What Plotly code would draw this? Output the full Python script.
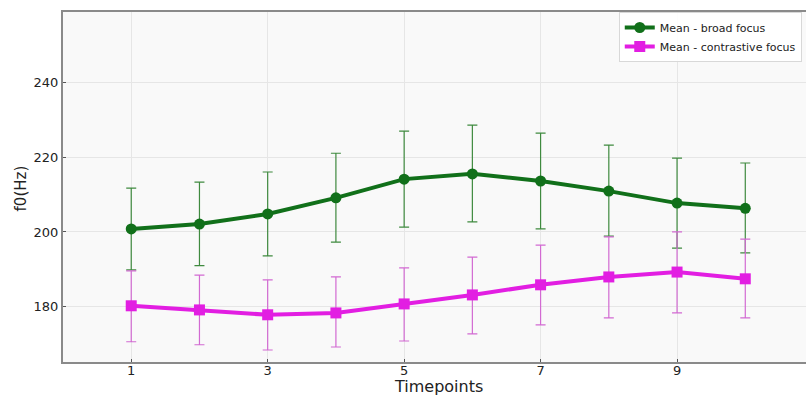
import plotly.graph_objects as go

timepoints = [1, 2, 3, 4, 5, 6, 7, 8, 9, 10]

broad_mean = [200.8, 202.1, 204.8, 209.1, 214.1, 215.5, 213.6, 210.9, 207.7, 206.3]
broad_upper = [211.7, 213.3, 216.0, 221.0, 226.9, 228.5, 226.4, 223.2, 219.7, 218.4]
broad_lower = [189.9, 191.0, 193.6, 197.3, 201.3, 202.7, 200.8, 198.9, 195.7, 194.4]

contr_mean = [180.3, 179.2, 177.9, 178.4, 180.8, 183.2, 185.9, 188.0, 189.3, 187.5]
contr_upper = [189.6, 188.5, 187.2, 188.0, 190.4, 193.3, 196.5, 198.7, 200.0, 198.1]
contr_lower = [170.7, 169.9, 168.5, 169.3, 170.9, 172.8, 175.2, 177.1, 178.4, 177.1]

x_ticks = [1, 3, 5, 7, 9]
y_ticks = [180, 200, 220, 240]

broad_plus = [u - m for u, m in zip(broad_upper, broad_mean)]
broad_minus = [m - l for m, l in zip(broad_mean, broad_lower)]
contr_plus = [u - m for u, m in zip(contr_upper, contr_mean)]
contr_minus = [m - l for m, l in zip(contr_mean, contr_lower)]

fig = go.Figure()
fig.add_trace(go.Scatter(
    x=timepoints, y=broad_mean, mode="lines+markers", name="Mean - broad focus",
    line=dict(color="#11701a", width=4),
    marker=dict(symbol="circle", size=11, color="#11701a"),
    error_y=dict(type="data", symmetric=False, array=broad_plus, arrayminus=broad_minus,
                 color="#3f8a3f", thickness=1.2, width=5),
))
fig.add_trace(go.Scatter(
    x=timepoints, y=contr_mean, mode="lines+markers", name="Mean - contrastive focus",
    line=dict(color="#e21ee2", width=4),
    marker=dict(symbol="square", size=11, color="#e21ee2"),
    error_y=dict(type="data", symmetric=False, array=contr_plus, arrayminus=contr_minus,
                 color="#d26ad2", thickness=1.2, width=5),
))

fig.update_layout(
    width=806, height=396,
    margin=dict(l=63, r=0, t=12, b=34),
    paper_bgcolor="white",
    plot_bgcolor="#f9f9f9",
    font=dict(family="DejaVu Sans", color="#222"),
    showlegend=True,
    legend=dict(
        x=0.748, y=1.0, xanchor="left", yanchor="top",
        bgcolor="rgba(255,255,255,0.9)", bordercolor="#d8d8d8", borderwidth=1,
        font=dict(size=11, color="#222"),
        itemwidth=30, tracegroupgap=0,
    ),
    annotations=[
        dict(text="f0(Hz)", xref="paper", yref="paper", x=-0.056, y=0.497,
             xanchor="center", yanchor="middle", textangle=-90, showarrow=False,
             font=dict(size=15, color="#222")),
        dict(text="Timepoints", xref="paper", yref="paper", x=0.505, y=-0.07,
             xanchor="center", yanchor="middle", showarrow=False,
             font=dict(size=16, color="#222")),
    ],
)
fig.update_xaxes(
    range=[0, 10.89], tickvals=x_ticks, ticktext=[str(v) for v in x_ticks],
    showgrid=True, gridcolor="#e6e6e6", gridwidth=1,
    showline=True, linecolor="#8a8a8a", linewidth=2, mirror=True,
    ticks="inside", ticklen=3, tickcolor="#555",
    tickfont=dict(size=13, color="#222"), ticklabelstandoff=-5,
    zeroline=False, automargin=False,
)
fig.update_yaxes(
    range=[165.3, 258.7], tickvals=y_ticks,
    showgrid=True, gridcolor="#e6e6e6", gridwidth=1,
    showline=True, linecolor="#8a8a8a", linewidth=2,
    ticks="inside", ticklen=3, tickcolor="#555",
    tickfont=dict(size=13, color="#222"),
    zeroline=False, automargin=False,
)

fig.write_html("out.html")
